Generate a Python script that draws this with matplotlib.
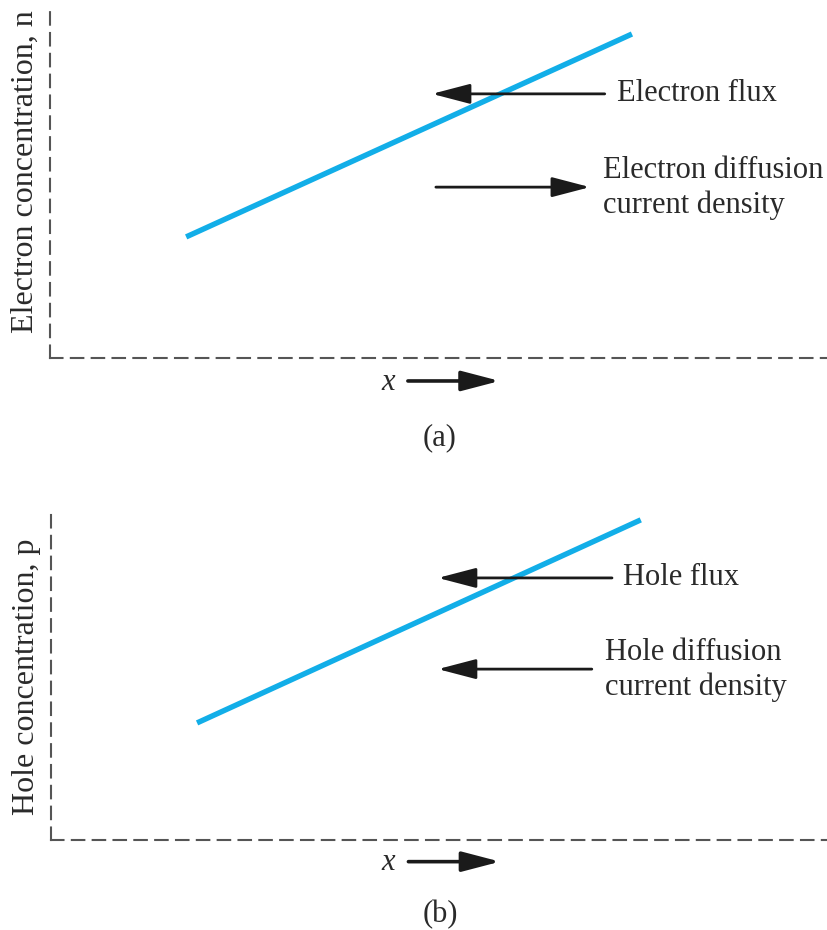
import matplotlib
matplotlib.use("Agg")
import matplotlib.pyplot as plt

plt.rcParams["font.family"] = ["Liberation Serif", "DejaVu Serif"]

# concentration profiles (arbitrary units, axes run 0..1)
pos_n = [0.175, 0.748]
conc_n = [0.348, 0.931]
pos_p = [0.188, 0.759]
conc_p = [0.357, 0.976]

ylabels = ["Electron concentration, n", "Hole concentration, p"]
flux_labels = ["Electron flux", "Hole flux"]
current_labels = ["Electron diffusion\ncurrent density", "Hole diffusion\ncurrent density"]
panel_labels = ["(a)", "(b)"]

blue = "#12aee8"
ink = "#2a2a2a"
fs = 22

fig = plt.figure(figsize=(8.28, 9.30), dpi=100)
ax_a = fig.add_axes([50 / 828, 1 - 358 / 930, 778 / 828, 348 / 930])
ax_b = fig.add_axes([51 / 828, 1 - 840 / 930, 777 / 828, 328 / 930])


def arrow(ax, x0, x1, y, lw=2.0):
    ax.annotate("", xy=(x1, y), xytext=(x0, y),
                arrowprops=dict(arrowstyle="-|>,head_length=1.3,head_width=0.34",
                                color="#1a1a1a", lw=lw, mutation_scale=18,
                                shrinkA=0, shrinkB=0),
                annotation_clip=False)


def setup(ax, ylabel, plabel, label_y):
    ax.set_xlim(0, 1)
    ax.set_ylim(0, 1)
    ax.set_xticks([])
    ax.set_yticks([])
    for s in ["top", "right"]:
        ax.spines[s].set_visible(False)
    for s in ["left", "bottom"]:
        ax.spines[s].set_color("#555555")
        ax.spines[s].set_linewidth(1.5)
        ax.spines[s].set_linestyle((0, (6, 4)))
    ax.set_ylabel(ylabel, fontsize=fs + 1, color=ink)
    ax.yaxis.set_label_coords(-0.013, label_y)
    ax.text(0.434, -0.069, "x", style="italic", fontsize=fs,
            ha="center", va="center", color=ink)
    arrow(ax, 0.460, 0.578, -0.066, lw=2.6)
    ax.text(0.501, -0.228, plabel, fontsize=fs, ha="center", va="center",
            color=ink)


# panel (a)
setup(ax_a, ylabels[0], panel_labels[0], 0.535)
ax_a.plot(pos_n, conc_n, color=blue, lw=3.9, solid_capstyle="butt")
arrow(ax_a, 0.713, 0.491, 0.759)
ax_a.text(0.729, 0.759, flux_labels[0], fontsize=fs, va="center", color=ink)
arrow(ax_a, 0.496, 0.694, 0.491)
ax_a.text(0.711, 0.488, current_labels[0], fontsize=fs, va="center",
          color=ink, linespacing=1.25)

# panel (b)
setup(ax_b, ylabels[1], panel_labels[1], 0.497)
ax_b.plot(pos_p, conc_p, color=blue, lw=3.9, solid_capstyle="butt")
arrow(ax_b, 0.722, 0.498, 0.799)
ax_b.text(0.736, 0.799, flux_labels[1], fontsize=fs, va="center", color=ink)
arrow(ax_b, 0.696, 0.498, 0.521)
ax_b.text(0.713, 0.518, current_labels[1], fontsize=fs, va="center",
          color=ink, linespacing=1.25)

fig.savefig("out.png", dpi=100)
